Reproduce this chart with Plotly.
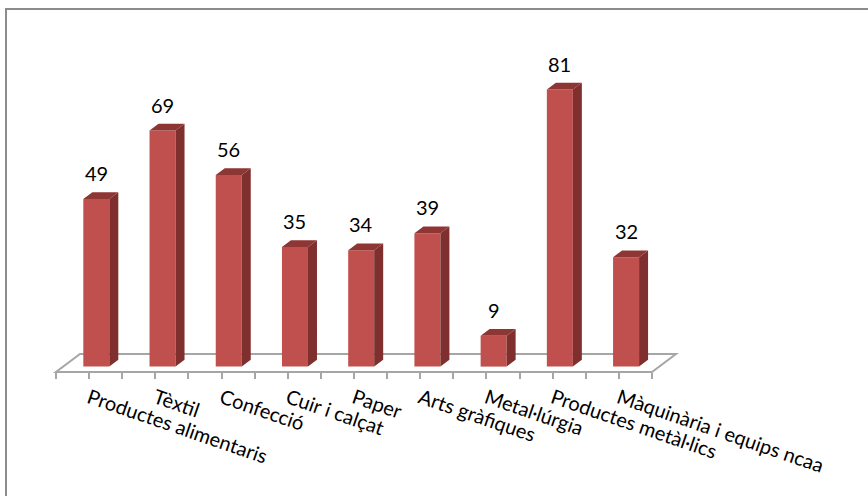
import plotly.graph_objects as go

categories = ["Productes alimentaris", "Tèxtil", "Confecció", "Cuir i calçat",
              "Paper", "Arts gràfiques", "Metal·lúrgia",
              "Productes metàl·lics", "Màquinària i equips ncaa"]
values = [49, 69, 56, 35, 34, 39, 9, 81, 32]

W, H = 868, 496
FLOOR_LEFT_PX = 56    # front-left corner of the floor
FLOOR_Y_PX = 372      # front edge of the floor
CAT_PX = 66.22        # one category slot
VAL_PX = 3.42         # one value unit

FRONT = "#C0504D"
SIDE = "#7F302E"
TOP = "#8E3633"
GRID = "#A6A6A6"
FONT = "Lato"

n = len(categories)
xs = list(range(n))

# faux 3-D offsets, in data units
floor_dx, floor_dy = 24 / CAT_PX, 18 / VAL_PX
bar_dx, bar_dy = 9 / CAT_PX, 6.75 / VAL_PX
bar_shift = 7.2 / CAT_PX
bar_base = 5.4 / VAL_PX
bar_w = 26 / CAT_PX

fig = go.Figure()

# floor outline, kept under the bars
fx = [-0.5, n - 0.5, n - 0.5 + floor_dx, -0.5 + floor_dx]
fy = [0, 0, floor_dy, floor_dy]
floor_path = "M " + " L ".join(f"{a},{b}" for a, b in zip(fx, fy)) + " Z"
fig.add_shape(type="path", path=floor_path, xref="x", yref="y",
              layer="below", line=dict(color=GRID, width=2))

# front faces
centers = [x + bar_shift for x in xs]
fig.add_trace(go.Bar(x=centers, y=values, base=bar_base, width=bar_w,
                     marker=dict(color=FRONT, line=dict(width=0)),
                     hoverinfo="skip"))

# side and top faces
sx, sy, tx, ty = [], [], [], []
for c, v in zip(centers, values):
    xl, xr = c - bar_w / 2, c + bar_w / 2
    b, t = bar_base, bar_base + v
    sx += [xr, xr + bar_dx, xr + bar_dx, xr, xr, None]
    sy += [b, b + bar_dy, t + bar_dy, t, b, None]
    tx += [xl, xl + bar_dx, xr + bar_dx, xr, xl, None]
    ty += [t, t + bar_dy, t + bar_dy, t, t, None]
fig.add_trace(go.Scatter(x=sx, y=sy, mode="lines", fill="toself",
                         fillcolor=SIDE, line=dict(width=0, color=SIDE),
                         hoverinfo="skip"))
fig.add_trace(go.Scatter(x=tx, y=ty, mode="lines", fill="toself",
                         fillcolor=TOP, line=dict(width=0, color=TOP),
                         hoverinfo="skip"))

# value labels
for c, v in zip(centers, values):
    fig.add_annotation(x=c, y=bar_base + v, text=str(v), showarrow=False,
                       yanchor="middle", yshift=26,
                       font=dict(family=FONT, size=20, color="black"))

# chart border (only top and left edges are in frame)
fig.add_shape(type="rect", xref="paper", yref="paper",
              x0=6 / W, x1=1.1, y0=-0.1, y1=1 - 9 / H,
              line=dict(color="#8C8C8C", width=2))

x0 = -0.5 - FLOOR_LEFT_PX / CAT_PX
fig.update_layout(
    width=W, height=H, showlegend=False, hovermode=False,
    paper_bgcolor="white", plot_bgcolor="white",
    margin=dict(l=0, r=0, t=0, b=0),
    xaxis=dict(range=[x0, x0 + W / CAT_PX], anchor="free",
               position=(H - FLOOR_Y_PX) / H,
               tickmode="array", tickvals=xs, ticktext=categories,
               tickangle=19, ticks="outside", ticklen=6, tickwidth=2,
               tickcolor=GRID, showline=False, showgrid=False,
               zeroline=False,
               tickfont=dict(family=FONT, size=20, color="black"),
               minor=dict(tickmode="array",
                          tickvals=[x - 0.5 for x in range(n + 1)],
                          ticks="outside", ticklen=6, tickwidth=2,
                          tickcolor=GRID, showgrid=False)),
    yaxis=dict(range=[-(H - FLOOR_Y_PX) / VAL_PX, FLOOR_Y_PX / VAL_PX],
               visible=False),
)

# the page's default body margin would shift the figure by 8px
fig.write_html("out.html", config={"displayModeBar": False},
               post_script="document.body.style.margin='0';")
